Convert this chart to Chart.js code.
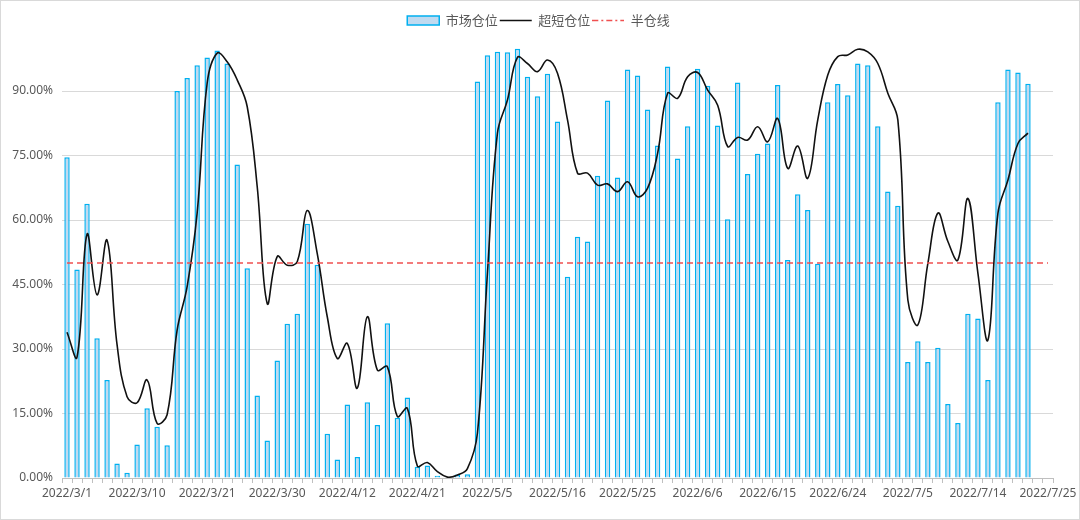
<!DOCTYPE html>
<html>
<head>
<meta charset="utf-8">
<script src="https://cdn.jsdelivr.net/npm/chart.js@4.4.0/dist/chart.umd.min.js"></script>
<style>
  html, body { margin: 0; padding: 0; background: #ffffff; }
  #wrap { width: 1080px; height: 520px; position: relative; }
</style>
</head>
<body>
<div id="wrap"><canvas id="c" width="1080" height="520"></canvas></div>
<script>
const categories = [
  '2022/3/1','2022/3/2','2022/3/3','2022/3/4','2022/3/7','2022/3/8','2022/3/9','2022/3/10','2022/3/11',
  '2022/3/14','2022/3/15','2022/3/16','2022/3/17','2022/3/18','2022/3/21','2022/3/22','2022/3/23','2022/3/24','2022/3/25',
  '2022/3/28','2022/3/29','2022/3/30','2022/3/31','2022/4/1','2022/4/6','2022/4/7','2022/4/8',
  '2022/4/11','2022/4/12','2022/4/13','2022/4/14','2022/4/15','2022/4/18','2022/4/19','2022/4/20','2022/4/21','2022/4/22',
  '2022/4/25','2022/4/26','2022/4/27','2022/4/28','2022/4/29','2022/5/5','2022/5/6',
  '2022/5/9','2022/5/10','2022/5/11','2022/5/12','2022/5/13','2022/5/16','2022/5/17','2022/5/18','2022/5/19','2022/5/20',
  '2022/5/23','2022/5/24','2022/5/25','2022/5/26','2022/5/27','2022/5/30','2022/5/31','2022/6/1','2022/6/2',
  '2022/6/6','2022/6/7','2022/6/8','2022/6/9','2022/6/10','2022/6/13','2022/6/14','2022/6/15','2022/6/16','2022/6/17',
  '2022/6/20','2022/6/21','2022/6/22','2022/6/23','2022/6/24','2022/6/27','2022/6/28','2022/6/29','2022/6/30','2022/7/1',
  '2022/7/4','2022/7/5','2022/7/6','2022/7/7','2022/7/8','2022/7/11','2022/7/12','2022/7/13','2022/7/14','2022/7/15',
  '2022/7/18','2022/7/19','2022/7/20','2022/7/21','2022/7/22','2022/7/25'
];

// 市场仓位 (%)
const marketPosition = [
  74.6, 48.5, 63.8, 32.5, 22.8, 3.4, 1.2, 7.8, 16.2, 11.9, 7.6, 90.0, 93.0, 96.0, 97.8, 99.4,
  96.4, 72.9, 48.8, 19.2, 8.7, 27.3, 35.9, 38.2, 59.1, 49.6, 10.3, 4.3, 17.1, 4.9, 17.6, 12.3,
  36.0, 14.0, 18.7, 2.6, 2.9, 0.5, 0, 0.8, 0.9, 92.2, 98.3, 99.1, 99.0, 99.8, 93.3, 88.8, 94.0,
  82.9, 46.8, 56.1, 55.0, 70.3, 87.8, 69.9, 95.0, 93.6, 85.7, 77.3, 95.7, 74.3, 81.8, 95.2, 91.2,
  82.0, 60.2, 92.0, 70.7, 75.4, 77.8, 91.4, 50.7, 66.0, 62.3, 49.8, 87.4, 91.6, 89.0, 96.4, 96.0,
  81.8, 66.6, 63.3, 27.0, 31.8, 27.0, 30.3, 17.2, 12.8, 38.2, 37.1, 22.8, 87.4, 95.0, 94.3, 91.7
];

// 超短仓位 (%)
const superShortPosition = [
  33.9, 28.1, 56.7, 42.6, 55.3, 31.0, 18.9, 17.5, 22.8, 12.7, 14.7, 34.4, 44.5, 61.6, 91.8, 98.8,
  96.8, 92.6, 86.4, 67.8, 40.6, 51.5, 49.5, 50.3, 62.2, 52.2, 37.5, 27.8, 31.3, 20.9, 37.5, 25.1,
  25.9, 14.3, 16.2, 2.8, 3.6, 1.5, 0.2, 0.7, 2.2, 10.4, 47.6, 80.2, 87.9, 97.8, 96.4, 94.5, 97.2,
  94.1, 83.3, 70.9, 70.9, 68.1, 68.4, 66.6, 68.9, 65.4, 67.4, 75.5, 89.5, 88.3, 93.3, 94.3, 90.2,
  86.7, 77.1, 79.2, 78.6, 81.7, 78.2, 83.6, 72.0, 77.2, 69.7, 83.3, 93.7, 98.0, 98.4, 99.7, 99.1,
  96.4, 89.5, 83.3, 41.4, 35.6, 49.9, 61.6, 55.0, 50.7, 65.0, 47.6, 32.1, 61.6, 69.3, 77.8, 80.2
];

// 半仓线 (%)
const halfLine = categories.map(() => 50);

const yTicks = [0, 15, 30, 45, 60, 75, 90];

// legend swatch for the dash-dot half line
const halfSwatch = document.createElement('canvas');
halfSwatch.width = 32; halfSwatch.height = 9;
(function () {
  const g = halfSwatch.getContext('2d');
  g.strokeStyle = '#f05050';
  g.lineWidth = 1.5;
  g.setLineDash([6, 3, 2, 3]);
  g.beginPath(); g.moveTo(0, 4.5); g.lineTo(32, 4.5); g.stroke();
})();

const legendHeight = {
  id: 'legendHeight',
  beforeInit(chart) {
    const fit = chart.legend.fit;
    chart.legend.fit = function () {
      fit.bind(chart.legend)();
      this.height = 36;
    };
  },
  afterLayout(chart) {
    chart.legend.left += 12;
    chart.legend.right += 12;
  }
};

const frame = {
  id: 'frame',
  afterDraw(chart) {
    const ctx = chart.ctx;
    ctx.save();
    ctx.strokeStyle = '#d9d9d9';
    ctx.lineWidth = 1;
    ctx.strokeRect(0.5, 0.5, chart.width - 1, chart.height - 1);
    ctx.restore();
  }
};

new Chart(document.getElementById('c'), {
  data: {
    labels: categories,
    datasets: [
      {
        type: 'bar',
        label: '市场仓位',
        data: marketPosition,
        backgroundColor: '#c0daf0',
        borderColor: '#00b0f0',
        borderWidth: 1.5,
        categoryPercentage: 1.0,
        barPercentage: 0.54,
        order: 3,
        pointStyle: 'rect'
      },
      {
        type: 'line',
        label: '超短仓位',
        data: superShortPosition,
        borderColor: '#111111',
        backgroundColor: '#111111',
        borderWidth: 1.6,
        pointRadius: 0,
        tension: 0.4,
        order: 2,
        pointStyle: 'line'
      },
      {
        type: 'line',
        label: '半仓线',
        data: halfLine,
        borderColor: '#f05050',
        backgroundColor: '#f05050',
        borderWidth: 1.5,
        borderDash: [6, 4],
        pointRadius: 0,
        tension: 0,
        order: 1,
        pointStyle: halfSwatch
      }
    ]
  },
  options: {
    responsive: false,
    animation: false,
    devicePixelRatio: 1,
    layout: { padding: { left: 0, right: 27, top: 12, bottom: 0 } },
    plugins: {
      tooltip: { enabled: false },
      legend: {
        position: 'top',
        align: 'center',
        labels: {
          usePointStyle: true,
          pointStyleWidth: 32,
          boxHeight: 9,
          padding: 2,
          color: '#595959',
          font: { family: '"Noto Sans CJK SC", "Noto Sans", sans-serif', size: 13 },
          sort: (a, b) => a.datasetIndex - b.datasetIndex
        }
      }
    },
    scales: {
      x: {
        type: 'category',
        offset: true,
        grid: {
          display: true,
          drawOnChartArea: false,
          drawTicks: true,
          tickLength: 5,
          color: '#bfbfbf',
          offset: true
        },
        border: { display: true, color: '#bfbfbf', width: 1 },
        ticks: {
          autoSkip: false,
          maxRotation: 0,
          minRotation: 0,
          padding: 3,
          color: '#595959',
          font: { family: '"Noto Sans", sans-serif', size: 12 },
          callback: function (value, index) {
            return index % 7 === 0 ? categories[index] : '';
          }
        },
        afterFit(scale) { scale.height = 42; }
      },
      y: {
        min: 0,
        max: 100,
        grid: { color: '#d9d9d9', lineWidth: 1, drawTicks: false },
        border: { display: false },
        afterBuildTicks(scale) { scale.ticks = yTicks.map(v => ({ value: v })); },
        ticks: {
          padding: 9,
          color: '#595959',
          font: { family: '"Noto Sans", sans-serif', size: 12 },
          callback: v => v.toFixed(2) + '%'
        },
        afterFit(scale) { scale.width = 62; }
      }
    }
  },
  plugins: [legendHeight, frame]
});
</script>
</body>
</html>
